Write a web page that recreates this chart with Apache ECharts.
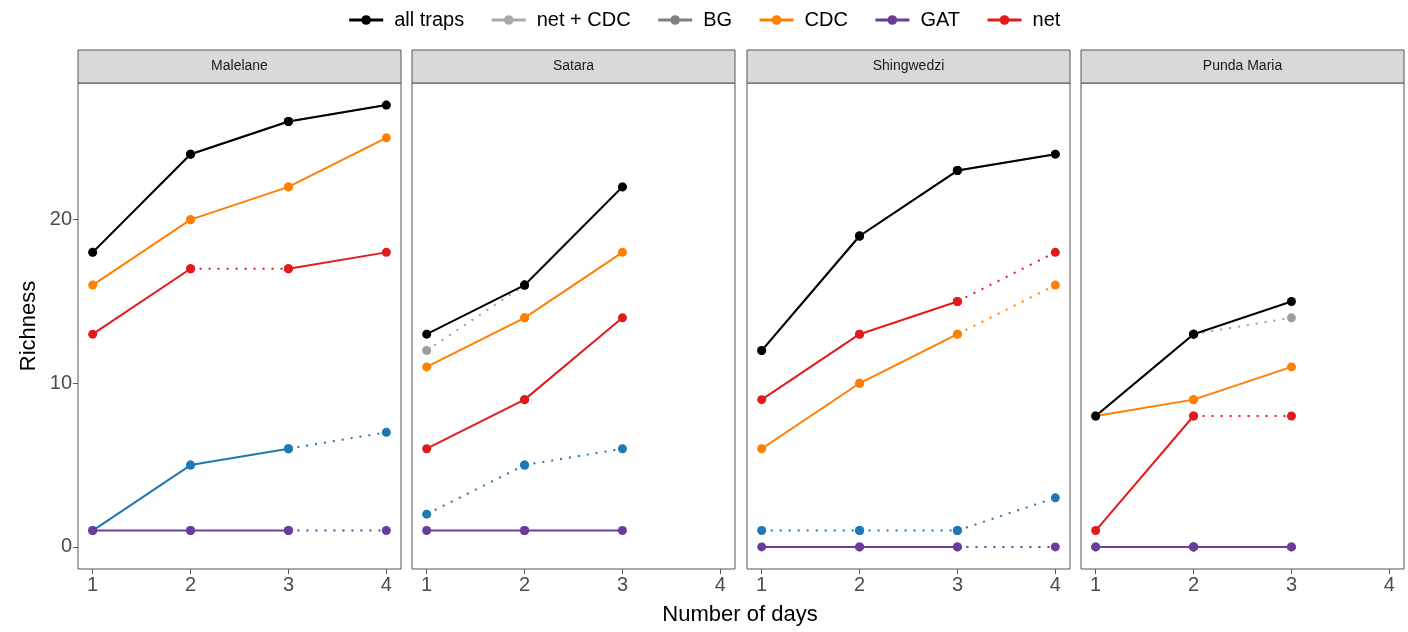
<!DOCTYPE html>
<html>
<head>
<meta charset="utf-8">
<script src="https://cdn.jsdelivr.net/npm/echarts@6/dist/echarts.min.js"></script>
<style>
  html, body { margin: 0; background: #fff; }
  #main { width: 1408px; height: 632px; }
</style>
</head>
<body>
<div id="main"></div>
<script>
const sites = ['Malelane', 'Satara', 'Shingwedzi', 'Punda Maria'];
const traps = ['all traps', 'net + CDC', 'BG', 'CDC', 'GAT', 'net'];
const days = [1, 2, 3, 4];
const richnessTicks = [0, 10, 20];

// richness per trap (same order as traps), day 1..n
const malelane = [[18, 24, 26, 27], [18, 24, 26, 27], [1, 5, 6, 7], [16, 20, 22, 25], [1, 1, 1, 1], [13, 17, 17, 18]];
const satara = [[13, 16, 22], [12, 16, 22], [2, 5, 6], [11, 14, 18], [1, 1, 1], [6, 9, 14]];
const shingwedzi = [[12, 19, 23, 24], [12, 19, 23, 24], [1, 1, 1, 3], [6, 10, 13, 16], [0, 0, 0, 0], [9, 13, 15, 18]];
const pundaMaria = [[8, 13, 15], [8, 13, 14], [0, 0, 0], [8, 9, 11], [0, 0, 0], [1, 8, 8]];

// 1 = dotted segment from day i to day i+1
const malelaneDotted = [[0, 0, 0], [0, 0, 0], [0, 0, 1], [0, 0, 0], [0, 0, 1], [0, 1, 0]];
const sataraDotted = [[0, 0], [1, 0], [1, 1], [0, 0], [0, 0], [0, 0]];
const shingwedziDotted = [[0, 0, 0], [0, 0, 0], [1, 1, 1], [0, 0, 1], [0, 0, 1], [0, 0, 1]];
const pundaMariaDotted = [[0, 0], [0, 1], [0, 0], [0, 0], [0, 0], [0, 1]];

const siteValues = [malelane, satara, shingwedzi, pundaMaria];
const siteDotted = [malelaneDotted, sataraDotted, shingwedziDotted, pundaMariaDotted];

const lineColors = ['#000000', '#9e9e9e', '#1f78b4', '#ff7f00', '#6a3d9a', '#e31a1c'];
const legendColors = ['#000000', '#aaaaaa', '#808080', '#ff7f00', '#6a3d9a', '#e31a1c'];
const drawOrder = [1, 2, 3, 5, 4, 0];

const panelLeft = [78, 412, 747, 1081];
const panelWidth = 323;
const panelTop = 83;
const panelHeight = 486;
const stripHeight = 33;
const font = 'Liberation Sans, Arial, sans-serif';

const chart = echarts.init(document.getElementById('main'));

const grids = panelLeft.map(left => ({
  left: left, top: panelTop, width: panelWidth, height: panelHeight,
  show: true, borderColor: '#555', borderWidth: 1, backgroundColor: '#fff'
}));

const xAxes = sites.map((s, i) => ({
  type: 'value', gridIndex: i, min: 0.85, max: 4.15, position: 'bottom',
  splitLine: { show: false },
  axisLine: { show: false, onZero: false },
  axisTick: { show: true, length: 5, lineStyle: { color: '#555' }, customValues: days },
  axisLabel: { color: '#4d4d4d', fontSize: 20, fontFamily: font, margin: 6, customValues: days }
}));

const yAxes = sites.map((s, i) => ({
  type: 'value', gridIndex: i, min: -1.35, max: 28.35, position: 'left',
  splitLine: { show: false },
  axisLine: { show: false, onZero: false },
  axisTick: { show: i === 0, length: 5, lineStyle: { color: '#555' }, customValues: richnessTicks },
  axisLabel: { show: i === 0, color: '#4d4d4d', fontSize: 20, fontFamily: font, margin: 6, customValues: richnessTicks },
  name: i === 0 ? 'Richness' : '',
  nameLocation: 'middle',
  nameGap: 38,
  nameTextStyle: { color: '#000', fontSize: 22, fontFamily: font }
}));

const series = [];
siteValues.forEach((vals, s) => {
  drawOrder.forEach(t => {
    const v = vals[t];
    for (let i = 0; i < v.length - 1; i++) {
      const dotted = siteDotted[s][t][i] === 1;
      series.push({
        name: traps[t],
        type: 'line',
        xAxisIndex: s,
        yAxisIndex: s,
        data: [[days[i], v[i]], [days[i + 1], v[i + 1]]],
        symbol: 'circle',
        symbolSize: 9,
        showAllSymbol: true,
        itemStyle: { color: lineColors[t] },
        lineStyle: { color: lineColors[t], width: 2, type: dotted ? [2, 7] : 'solid' },
        emphasis: { disabled: true },
        animation: false
      });
    }
  });
});

const graphics = [];
sites.forEach((name, i) => {
  graphics.push({
    type: 'rect',
    shape: { x: panelLeft[i], y: panelTop - stripHeight, width: panelWidth, height: stripHeight },
    style: { fill: '#d9d9d9', stroke: '#555', lineWidth: 1 }
  });
  graphics.push({
    type: 'text',
    x: panelLeft[i] + panelWidth / 2,
    y: panelTop - stripHeight / 2,
    style: { text: name, fill: '#1a1a1a', fontSize: 14, fontFamily: font, align: 'center', verticalAlign: 'middle' }
  });
});
graphics.push({
  type: 'text',
  x: 740, y: 615,
  style: { text: 'Number of days', fill: '#000', fontSize: 22, fontFamily: font, align: 'center', verticalAlign: 'middle' }
});

chart.setOption({
  backgroundColor: '#fff',
  animation: false,
  legend: {
    top: 5,
    left: 'center',
    itemWidth: 34,
    itemHeight: 12,
    itemGap: 26,
    textStyle: { color: '#000', fontSize: 20, fontFamily: font, padding: [0, 0, 0, 6] },
    data: traps.map((name, t) => ({
      name: name,
      itemStyle: { color: legendColors[t] },
      lineStyle: { color: legendColors[t], width: 3, type: 'solid' }
    }))
  },
  grid: grids,
  xAxis: xAxes,
  yAxis: yAxes,
  series: series,
  graphic: graphics
});
</script>
</body>
</html>
